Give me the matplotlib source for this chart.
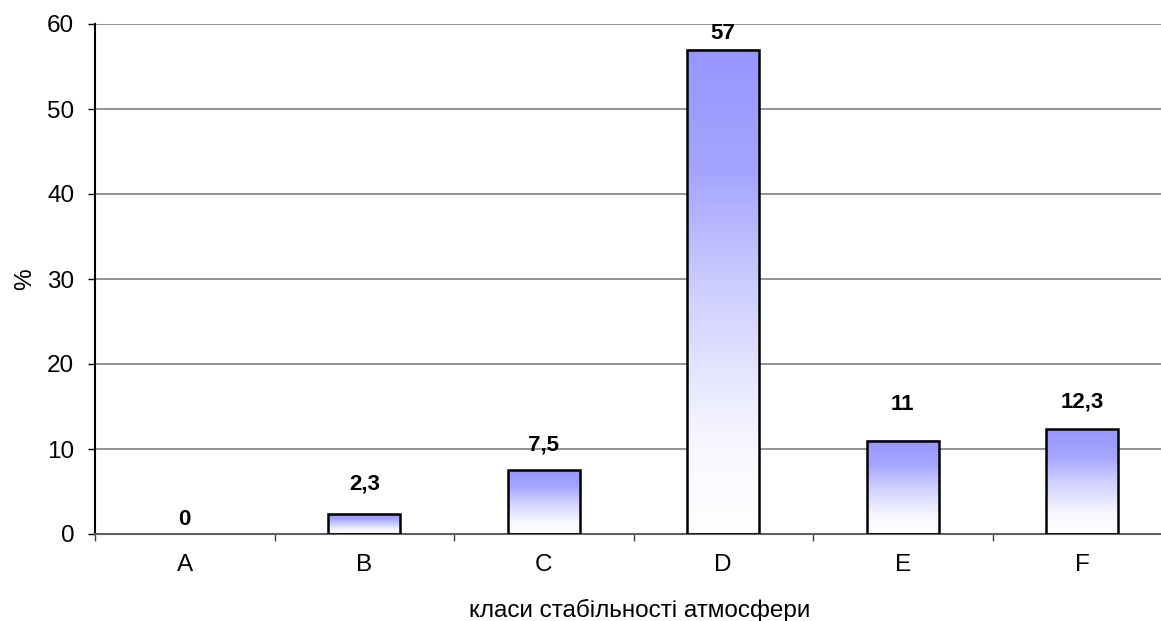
import numpy as np
import matplotlib
matplotlib.use("Agg")
import matplotlib.pyplot as plt
from matplotlib.colors import LinearSegmentedColormap

plt.rcParams['font.family'] = ['Liberation Sans', 'DejaVu Sans']

categories = ['A', 'B', 'C', 'D', 'E', 'F']
values = [0, 2.3, 7.5, 57, 11, 12.3]
value_labels = ['0', '2,3', '7,5', '57', '11', '12,3']
y_ticks = [0, 10, 20, 30, 40, 50, 60]

# vertical gap (pixels) between each bar top and the centre of its label
label_gaps = [14.5, 30, 25, 16, 36, 27.5]

W, H = 1161, 621
fig = plt.figure(figsize=(W / 100, H / 100), dpi=100)
# plot area runs slightly past the right edge of the figure
ax = fig.add_axes([95 / W, 1 - 534 / H, 1077 / W, (534 - 24) / H])

x = np.arange(len(categories))
bar_w = 0.40

# gradient: blue at top fading to white at bottom
cmap = LinearSegmentedColormap.from_list(
    'fade', [(0.0, '#ffffff'), (0.2, '#f6f6ff'), (0.5, '#cfcfff'),
             (0.75, '#a4a4ff'), (1.0, '#9696ff')])
grad = np.linspace(0, 1, 256).reshape(-1, 1)

for xi, v in zip(x, values):
    if v <= 0:
        continue
    ax.bar(xi, v, width=bar_w, facecolor='none', edgecolor='black',
           linewidth=1.8, zorder=3)
    ax.imshow(grad, cmap=cmap, aspect='auto', origin='lower',
              extent=(xi - bar_w / 2, xi + bar_w / 2, 0, v), zorder=2,
              interpolation='bilinear')
ax.set_xlim(-0.5, len(categories) - 0.5)
ax.set_ylim(0, 60)

for xi, v, lab, g in zip(x, values, value_labels, label_gaps):
    ax.annotate(lab, (xi, v), xytext=(0, g), textcoords='offset pixels',
                ha='center', va='center', fontsize=16, fontweight='bold', zorder=4)

ax.set_yticks(y_ticks)
ax.set_yticklabels([str(t) for t in y_ticks], fontsize=17.5)
ax.yaxis.grid(True, color='#808080', linewidth=1.2, zorder=0)
ax.set_axisbelow(True)

ax.set_xticks(np.arange(-0.5, len(categories), 1))
ax.set_xticklabels([])
ax.set_xticks(x, minor=True)
ax.set_xticklabels(categories, minor=True, fontsize=17.5)
ax.tick_params(axis='x', which='minor', length=0, pad=14.5)
ax.tick_params(axis='x', which='major', length=5, width=1, color='#404040')
ax.tick_params(axis='y', length=5, width=1, pad=10)

for s in ['top', 'right']:
    ax.spines[s].set_visible(False)
ax.spines['left'].set_linewidth(1.5)
ax.spines['bottom'].set_color('#606060')
ax.spines['bottom'].set_linewidth(1.5)

# axis titles
fig.text(640 / W, 1 - 617 / H, 'класи стабільності атмосфери',
         fontsize=17.5, ha='center', va='baseline')
ax.set_ylabel('%', fontsize=17.5, labelpad=8)

fig.savefig('out.png', dpi=100)
